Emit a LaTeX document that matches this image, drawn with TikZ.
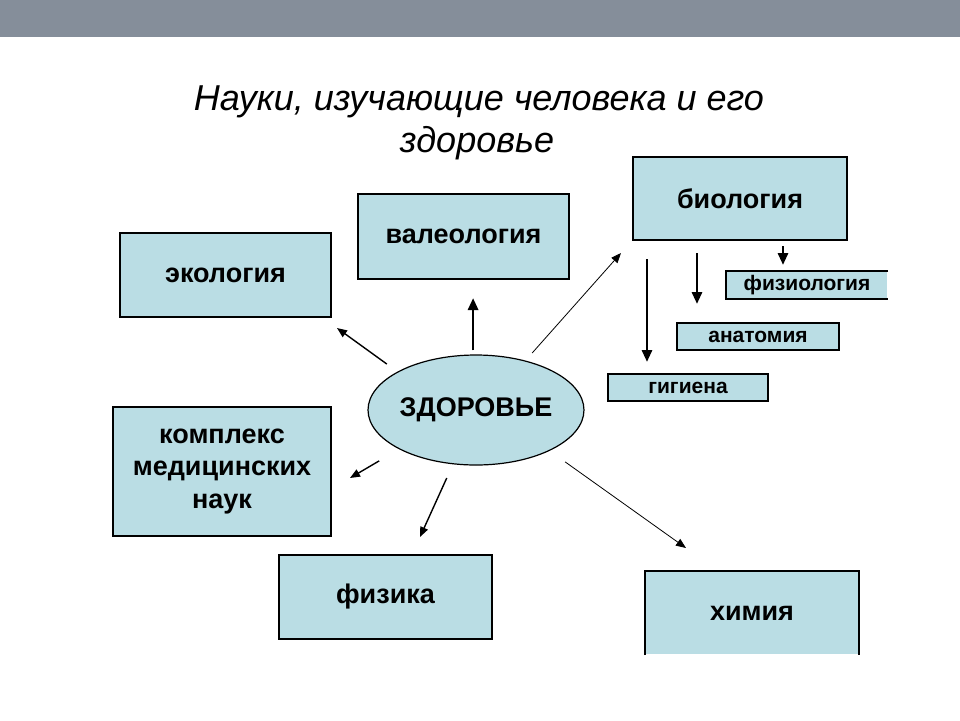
\documentclass[tikz,border=0pt]{standalone}
\usepackage{fontspec}
\setmainfont{Liberation Sans}
\usetikzlibrary{arrows.meta,shapes.geometric}

\definecolor{boxblau}{RGB}{186,221,228}
\definecolor{balkengrau}{RGB}{133,142,154}

\tikzset{
	kasten/.style={draw, line width=1pt, fill=boxblau, inner sep=0pt, align=center,
		font=\fontsize{13.5}{16.25}\selectfont\bfseries},
	klein/.style={kasten, font=\fontsize{10.5}{12}\selectfont\bfseries},
	titel/.style={anchor=base, font=\fontsize{18}{21}\selectfont\itshape},
	pfeil/.style={-{Triangle[length=5pt,width=4pt]}, line width=0.7pt},
	duenn/.style={pfeil, line width=0.4pt},
	dick/.style={-{Triangle[length=6pt,width=5pt]}, line width=1.4pt},
}

\begin{document}
\begin{tikzpicture}[x=0.5pt, y=-0.5pt]
	\useasboundingbox (0,0) rectangle (960,720); % Rand wie Vorlage
	\fill[balkengrau] (0,0) rectangle (960,37);

	% Ueberschrift
	\node[titel] (titel1) at (479,110) {Науки, изучающие человека и его};
	\node[titel] (titel2) at (477,152) {здоровье};

	% Mitte
	\node[ellipse, draw, line width=0.6pt, fill=boxblau, minimum width=99pt, minimum height=55pt, inner sep=0pt,
		font=\fontsize{13.5}{16}\selectfont\bfseries] (zd) at (476,410) {ЗДОРОВЬЕ};

	\node[kasten, minimum width=105.5pt, minimum height=42pt] (eco) at (225.5,275) {экология};
	\node[kasten, minimum width=105.5pt, minimum height=42.5pt] (val) at (463.5,236.5) {валеология};
	\node[kasten, minimum width=107pt, minimum height=41.5pt] (bio) at (740,198.5) {биология};
	\node[kasten, minimum width=109pt, minimum height=64.5pt] (kom) at (222,471.5) {комплекс\\медицинских\\наук};
	\node[kasten, minimum width=106.5pt, minimum height=42pt] (phy) at (385.5,597) {физика};
	\node[kasten, draw=none, minimum width=106pt, minimum height=41pt] (him) at (752,613) {химия};
	\draw[line width=1pt] (him.south west) -- (him.north west) -- (him.north east) -- (him.south east);

	% unter Biologie
	\node[klein, draw=none, minimum width=80pt, minimum height=13pt] (fiz) at (807,285) {физиология};
	\draw[line width=1pt] (fiz.north east) -- (fiz.north west) -- (fiz.south west) -- (fiz.south east);
	\node[klein, minimum width=81pt, minimum height=13.5pt] (ana) at (758,336.5) {анатомия};
	\node[klein, minimum width=80pt, minimum height=13.5pt] (gig) at (688,387.5) {гигиена};

	% Pfeilspitzen
	\coordinate (zEco) at (337,328);
	\coordinate (zBio) at (621,253);
	\coordinate (zKom) at (350,478);
	\coordinate (zPhy) at (420,537);
	\coordinate (zHim) at (686,548);

	\draw[dick, shorten <=2pt, shorten >=9pt] (zd.93) -- (zd.93 |- val.south);
	\draw[pfeil, shorten <=6.5pt] (zd.154) -- (zEco);
	\draw[duenn, shorten <=5pt] (zd.45) -- (zBio);
	\draw[pfeil, shorten <=11.5pt] (zd.207) -- (zKom);
	\draw[pfeil, shorten <=7.5pt] (zd.247) -- (zPhy);
	\draw[duenn, shorten <=9.5pt] (zd.331) -- (zHim);

	\draw[dick, shorten <=2.5pt, shorten >=3pt] ([xshift=21.5pt]bio.south) -- ([xshift=21.5pt]bio.south |- fiz.north);
	\draw[dick, shorten <=6pt, shorten >=9pt] ([xshift=-21.5pt]bio.south) -- ([xshift=-21.5pt]bio.south |- ana.north);
	\draw[dick, shorten <=9pt, shorten >=5.5pt] ([xshift=-46.5pt]bio.south) -- ([xshift=-46.5pt]bio.south |- gig.north);

	%\draw[help lines, step=50] (0,0) grid (960,720);
\end{tikzpicture}
\end{document}
